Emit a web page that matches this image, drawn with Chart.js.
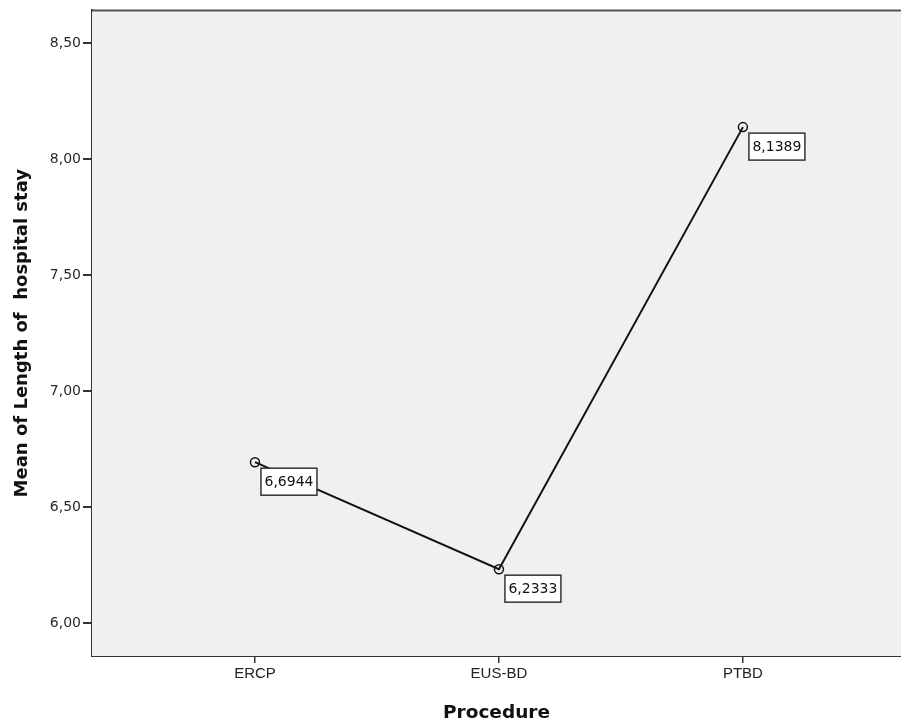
<!DOCTYPE html>
<html>
<head>
<meta charset="utf-8">
<script src="https://cdn.jsdelivr.net/npm/chart.js@4"></script>
<style>
  html, body { margin: 0; padding: 0; background: #fff; overflow: hidden; }
  #wrap { width: 901px; height: 724px; overflow: hidden; }
  canvas { display: block; }
</style>
</head>
<body>
<div id="wrap"><canvas id="myChart" width="907" height="724"></canvas></div>
<script>
// values
const categories = ["ERCP", "EUS-BD", "PTBD"];
const means = [6.6944, 6.2333, 8.1389];
const y_ticks = [6.0, 6.5, 7.0, 7.5, 8.0, 8.5];

const comma = (v, d) => v.toFixed(d).replace(".", ",");

// plot background, top frame and the boxed value labels
const spss_look = {
  id: "spss_look",
  beforeDatasetsDraw(chart) {
    const { ctx, chartArea: a } = chart;
    ctx.save();
    ctx.fillStyle = "#f0f0f0";
    ctx.fillRect(a.left, a.top, a.right - a.left, a.bottom - a.top);
    ctx.strokeStyle = "#555";
    ctx.lineWidth = 2;
    ctx.beginPath();
    ctx.moveTo(a.left, a.top);
    ctx.lineTo(a.right, a.top);
    ctx.stroke();
    ctx.restore();
  },
  afterDatasetsDraw(chart) {
    const { ctx } = chart;
    const meta = chart.getDatasetMeta(0);
    ctx.save();
    ctx.font = "14px 'DejaVu Sans', sans-serif";
    ctx.textBaseline = "middle";
    meta.data.forEach((pt, i) => {
      const txt = comma(means[i], 4);
      const w = ctx.measureText(txt).width + 7;
      const h = 27;
      const x = pt.x + 6;
      const y = pt.y + 6;
      ctx.fillStyle = "#fff";
      ctx.fillRect(x, y, w, h);
      ctx.strokeStyle = "#333";
      ctx.lineWidth = 1.5;
      ctx.strokeRect(x, y, w, h);
      ctx.fillStyle = "#111";
      ctx.fillText(txt, x + 3.5, y + h / 2 + 1);
    });
    ctx.restore();
  },
};

const ctx = document.getElementById("myChart").getContext("2d");

const myChart = new Chart(ctx, {
  type: "line",
  data: {
    datasets: [
      {
        data: means.map((v, i) => ({ x: i, y: v })),
        borderColor: "#111",
        borderWidth: 2,
        pointRadius: 4.5,
        pointBorderWidth: 1.5,
        pointBorderColor: "#111",
        pointBackgroundColor: "rgba(0,0,0,0)",
        tension: 0,
      },
    ],
  },
  options: {
    responsive: false,
    animation: false,
    layout: { padding: { top: 10, right: 0, left: 0, bottom: 0 } },
    plugins: {
      legend: { display: false },
      tooltip: { enabled: false },
    },
    scales: {
      x: {
        type: "linear",
        min: -0.668,
        max: 2.648,
        afterBuildTicks: (scale) => {
          scale.ticks = categories.map((c, i) => ({ value: i }));
        },
        afterFit: (scale) => {
          scale.height = 68;
          scale.paddingLeft = 0;
          scale.paddingRight = 0;
        },
        ticks: {
          callback: (v) => categories[v],
          color: "#222",
          font: { family: "'Liberation Sans', Arial, sans-serif", size: 15 },
          padding: 2,
          maxRotation: 0,
        },
        grid: {
          drawOnChartArea: false,
          drawTicks: true,
          tickLength: 7,
          color: "#333",
          lineWidth: 1.5,
        },
        border: { display: true, color: "#333", width: 2 },
        title: {
          display: true,
          text: "Procedure",
          color: "#111",
          font: { family: "'DejaVu Sans', sans-serif", size: 18.5, weight: "bold" },
          padding: { top: 7, bottom: 0 },
        },
      },
      y: {
        min: 5.859,
        max: 8.642,
        afterBuildTicks: (scale) => {
          scale.ticks = y_ticks.map((v) => ({ value: v }));
        },
        afterFit: (scale) => {
          scale.width = 92;
        },
        ticks: {
          callback: (v) => comma(v, 2),
          color: "#2a2a2a",
          font: { family: "'DejaVu Sans', sans-serif", size: 14 },
          padding: 2,
        },
        grid: {
          drawOnChartArea: false,
          drawTicks: true,
          tickLength: 9,
          color: "#333",
          lineWidth: 2,
        },
        border: { display: true, color: "#333", width: 2 },
        title: {
          display: true,
          text: "Mean of Length of  hospital stay",
          color: "#111",
          font: { family: "'DejaVu Sans', sans-serif", size: 18, weight: "bold" },
          padding: { top: 12, bottom: 4 },
        },
      },
    },
  },
  plugins: [spss_look],
});
</script>
</body>
</html>
